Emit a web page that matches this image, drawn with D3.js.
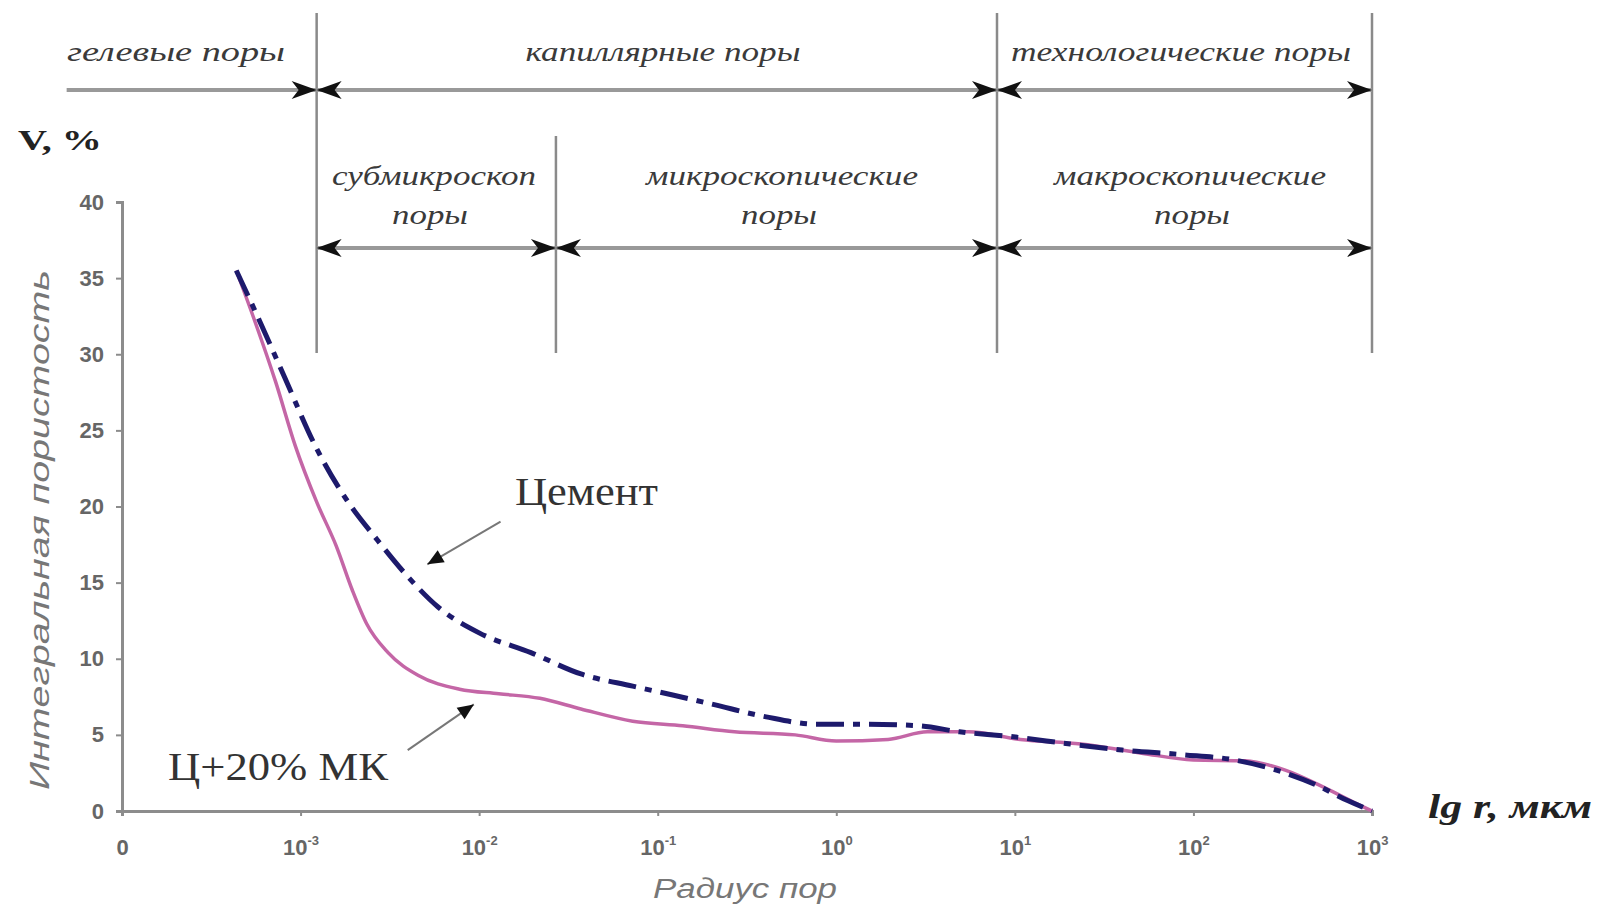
<!DOCTYPE html>
<html>
<head>
<meta charset="utf-8">
<script src="https://cdn.jsdelivr.net/npm/d3@7"></script>
<style>
  body { margin: 0; background: #fff; }
  svg { display: block; }
</style>
</head>
<body>
<svg></svg>
<script>
// lg r (мкм) and V, %
let lgCement = [-3.36, -3.23, -3.09, -2.91, -2.74, -2.57, -2.40, -2.23, -2.00, -1.71, -1.43, -1.14, -0.91, -0.69, -0.40, -0.11, 0.17, 0.46, 0.69, 0.97, 1.31, 1.60, 1.94, 2.23, 2.46, 2.69, 2.86, 3.00]
let vCement = [35.5, 32.2, 28.5, 23.8, 20.4, 17.8, 15.4, 13.4, 11.7, 10.4, 9.0, 8.2, 7.6, 7.0, 6.2, 5.7, 5.7, 5.6, 5.2, 4.9, 4.4, 4.0, 3.7, 3.35, 2.7, 1.7, 0.7, 0]

let lgMk = [-3.36, -3.26, -3.14, -3.03, -2.91, -2.80, -2.71, -2.63, -2.51, -2.34, -2.11, -1.89, -1.66, -1.43, -1.14, -0.86, -0.57, -0.23, 0.00, 0.29, 0.51, 0.74, 1.03, 1.37, 1.71, 2.00, 2.29, 2.51, 2.74, 2.91, 3.00]
let vMk = [35.5, 32.3, 28.2, 24.0, 20.3, 17.4, 14.5, 12.3, 10.4, 8.9, 8.0, 7.7, 7.4, 6.7, 5.9, 5.6, 5.2, 5.0, 4.6, 4.7, 5.2, 5.2, 4.7, 4.4, 3.8, 3.35, 3.3, 2.7, 1.5, 0.5, 0]

let yTicks = [0, 5, 10, 15, 20, 25, 30, 35, 40]
let xTicks = [-4, -3, -2, -1, 0, 1, 2, 3]
let xTickBase = ['0', '10', '10', '10', '10', '10', '10', '10']
let xTickExp = ['', '-3', '-2', '-1', '0', '1', '2', '3']

// pore classes, boundaries in lg r
let zoneNames1 = ['гелевые поры', 'капиллярные поры', 'технологические поры']
let zoneFrom1 = [-4.31, -2.91, 0.90]
let zoneTo1 = [-2.91, 0.90, 3.0]
let zoneStart1 = [false, true, true]

let zoneNames2 = ['субмикроскоп', 'микроскопические', 'макроскопические']
let zoneFrom2 = [-2.91, -1.57, 0.90]
let zoneTo2 = [-1.57, 0.90, 3.0]

let dividers = [-2.91, -1.57, 0.90, 3.0]
let dividerTall = [true, false, true, true]

let width = 1600
let height = 912

let svg = d3.select('svg')
let xScale
let yScale

let generateScale = () => {
  xScale = d3.scaleLinear()
  .domain([-4, 3])
  .range([122, 1372])

  yScale = d3.scaleLinear()
  .domain([0, 40])
  .range([811, 202])
}

let drawCanvas = () => {
  svg.attr('width', width)
  svg.attr('height', height)

  let defs = svg.append('defs')
  defs.append('marker')
  .attr('id', 'stealth')
  .attr('viewBox', '-1 -11 28 22')
  .attr('refX', 25)
  .attr('refY', 0)
  .attr('markerWidth', 28)
  .attr('markerHeight', 22)
  .attr('markerUnits', 'userSpaceOnUse')
  .attr('orient', 'auto-start-reverse')
  .append('path')
  .attr('d', 'M0,-9 L25,0 L0,9 L7,0 Z')
  .attr('fill', '#111')

  defs.append('marker')
  .attr('id', 'tri')
  .attr('viewBox', '-1 -8 18 16')
  .attr('refX', 16)
  .attr('refY', 0)
  .attr('markerWidth', 18)
  .attr('markerHeight', 16)
  .attr('markerUnits', 'userSpaceOnUse')
  .attr('orient', 'auto')
  .append('path')
  .attr('d', 'M0,-7 L16,0 L0,7 Z')
  .attr('fill', '#111')
}

let drawZones = () => {
  let g = svg.append('g')

  dividers.forEach((d, i) => {
    g.append('line')
    .attr('x1', xScale(d))
    .attr('x2', xScale(d))
    .attr('y1', dividerTall[i] ? 13 : 136)
    .attr('y2', 353)
    .attr('stroke', '#8a8a8a')
    .attr('stroke-width', 2.5)
  })

  zoneNames1.forEach((name, i) => {
    g.append('line')
    .attr('x1', xScale(zoneFrom1[i]))
    .attr('x2', xScale(zoneTo1[i]))
    .attr('y1', 90)
    .attr('y2', 90)
    .attr('stroke', '#999')
    .attr('stroke-width', 4)
    .attr('marker-start', zoneStart1[i] ? 'url(#stealth)' : null)
    .attr('marker-end', 'url(#stealth)')
  })

  let lens1 = [218, 275, 340]
  let mid1 = [176, 663, 1181]
  zoneNames1.forEach((name, i) => {
    g.append('text')
    .attr('x', mid1[i])
    .attr('y', 61)
    .attr('text-anchor', 'middle')
    .attr('font-family', 'Liberation Serif')
    .attr('font-style', 'italic')
    .attr('font-size', 28)
    .attr('fill', '#3a3a3a')
    .attr('textLength', lens1[i])
    .attr('lengthAdjust', 'spacingAndGlyphs')
    .text(name)
  })

  zoneNames2.forEach((name, i) => {
    g.append('line')
    .attr('x1', xScale(zoneFrom2[i]))
    .attr('x2', xScale(zoneTo2[i]))
    .attr('y1', 248)
    .attr('y2', 248)
    .attr('stroke', '#999')
    .attr('stroke-width', 4)
    .attr('marker-start', 'url(#stealth)')
    .attr('marker-end', 'url(#stealth)')
  })

  let lens2 = [204, 272, 272]
  let mid2 = [434, 782, 1190]
  let midPory = [430, 779, 1192]
  zoneNames2.forEach((name, i) => {
    g.append('text')
    .attr('x', mid2[i])
    .attr('y', 185)
    .attr('text-anchor', 'middle')
    .attr('font-family', 'Liberation Serif')
    .attr('font-style', 'italic')
    .attr('font-size', 28)
    .attr('fill', '#3a3a3a')
    .attr('textLength', lens2[i])
    .attr('lengthAdjust', 'spacingAndGlyphs')
    .text(name)

    g.append('text')
    .attr('x', midPory[i])
    .attr('y', 224)
    .attr('text-anchor', 'middle')
    .attr('font-family', 'Liberation Serif')
    .attr('font-style', 'italic')
    .attr('font-size', 28)
    .attr('fill', '#3a3a3a')
    .attr('textLength', 76)
    .attr('lengthAdjust', 'spacingAndGlyphs')
    .text('поры')
  })
}

let drawAxis = () => {
  let yAxis = d3.axisLeft(yScale)
  .tickValues(yTicks)
  .tickSize(6)
  .tickPadding(12)

  let xAxis = d3.axisBottom(xScale)
  .tickValues(xTicks)
  .tickSize(5)
  .tickPadding(23)
  .tickFormat('')

  let gy = svg.append('g')
  .attr('id', 'y-axis')
  .attr('transform', 'translate(' + xScale(-4) + ', 0)')
  .call(yAxis)

  let gx = svg.append('g')
  .attr('id', 'x-axis')
  .attr('transform', 'translate(0, ' + yScale(0) + ')')
  .call(xAxis)

  for (let g of [gx, gy]) {
    g.select('.domain').attr('stroke', '#8c8c8c').attr('stroke-width', 3)
    g.selectAll('.tick line').attr('stroke', '#8c8c8c').attr('stroke-width', 2)
    g.selectAll('.tick text')
    .attr('font-family', 'Liberation Sans')
    .attr('font-weight', 'bold')
    .attr('font-size', 22)
    .attr('fill', '#666')
  }

  gx.selectAll('.tick text').each(function (d, i) {
    let t = d3.select(this)
    t.attr('dy', '0.71em')
    t.append('tspan').text(xTickBase[i])
    if (xTickExp[i] !== '') {
      t.append('tspan')
      .attr('dy', '-0.75em')
      .attr('font-size', 13)
      .text(xTickExp[i])
    }
  })

  svg.append('text')
  .attr('x', 18)
  .attr('y', 150)
  .attr('font-family', 'Liberation Serif')
  .attr('font-weight', 'bold')
  .attr('font-size', 30)
  .attr('fill', '#222')
  .attr('textLength', 84)
  .attr('lengthAdjust', 'spacingAndGlyphs')
  .text('V, %')

  svg.append('text')
  .attr('transform', 'translate(49, 530) rotate(-90)')
  .attr('text-anchor', 'middle')
  .attr('font-family', 'Liberation Sans')
  .attr('font-style', 'italic')
  .attr('font-size', 27)
  .attr('fill', '#777')
  .attr('textLength', 520)
  .attr('lengthAdjust', 'spacingAndGlyphs')
  .text('Интегральная пористость')

  svg.append('text')
  .attr('x', 745)
  .attr('y', 898)
  .attr('text-anchor', 'middle')
  .attr('font-family', 'Liberation Sans')
  .attr('font-style', 'italic')
  .attr('font-size', 27)
  .attr('fill', '#777')
  .attr('textLength', 184)
  .attr('lengthAdjust', 'spacingAndGlyphs')
  .text('Радиус пор')

  svg.append('text')
  .attr('x', 1428)
  .attr('y', 818)
  .attr('font-family', 'Liberation Serif')
  .attr('font-style', 'italic')
  .attr('font-weight', 'bold')
  .attr('font-size', 34)
  .attr('fill', '#222')
  .attr('textLength', 164)
  .attr('lengthAdjust', 'spacingAndGlyphs')
  .text('lg r, мкм')
}

let drawCurves = () => {
  let line = d3.line()
  .x((d) => { return xScale(d[0]) })
  .y((d) => { return yScale(d[1]) })
  .curve(d3.curveMonotoneX)

  let mk = lgMk.map((x, i) => [x, vMk[i]])
  let cement = lgCement.map((x, i) => [x, vCement[i]])

  svg.append('path')
  .datum(mk)
  .attr('d', line)
  .attr('fill', 'none')
  .attr('stroke', '#c466a6')
  .attr('stroke-width', 3.5)

  svg.append('path')
  .datum(cement)
  .attr('d', line)
  .attr('fill', 'none')
  .attr('stroke', '#1d1a6c')
  .attr('stroke-width', 5)
  .attr('stroke-dasharray', '28,9,7,9')
}

let drawNotes = () => {
  svg.append('text')
  .attr('x', 515)
  .attr('y', 505)
  .attr('font-family', 'Liberation Serif')
  .attr('font-size', 40)
  .attr('fill', '#333')
  .attr('textLength', 143)
  .attr('lengthAdjust', 'spacingAndGlyphs')
  .text('Цемент')

  svg.append('text')
  .attr('x', 168)
  .attr('y', 780)
  .attr('font-family', 'Liberation Serif')
  .attr('font-size', 40)
  .attr('fill', '#333')
  .attr('textLength', 220)
  .attr('lengthAdjust', 'spacingAndGlyphs')
  .text('Ц+20% МК')

  svg.append('line')
  .attr('x1', xScale(-1.88))
  .attr('y1', yScale(19.0))
  .attr('x2', xScale(-2.29))
  .attr('y2', yScale(16.2))
  .attr('stroke', '#777')
  .attr('stroke-width', 2)
  .attr('marker-end', 'url(#tri)')

  svg.append('line')
  .attr('x1', xScale(-2.40))
  .attr('y1', yScale(4.0))
  .attr('x2', xScale(-2.03))
  .attr('y2', yScale(7.0))
  .attr('stroke', '#777')
  .attr('stroke-width', 2)
  .attr('marker-end', 'url(#tri)')
}

generateScale()
drawCanvas()
drawZones()
drawAxis()
drawCurves()
drawNotes()
</script>
</body>
</html>
